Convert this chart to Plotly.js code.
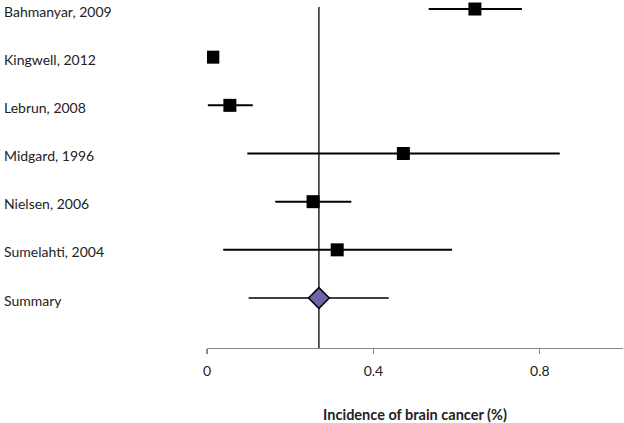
<!DOCTYPE html>
<html>
<head>
<meta charset="utf-8">
<script src="https://cdn.plot.ly/plotly-3.0.1.min.js"></script>
<style>html,body{margin:0;padding:0;background:#fff;}#chart{width:624px;height:423px;}</style>
</head>
<body>
<div id="chart"></div>
<script>
// Data
const studies = ["Bahmanyar, 2009", "Kingwell, 2012", "Lebrun, 2008", "Midgard, 1996", "Nielsen, 2006", "Sumelahti, 2004"];
const incidence = [0.644, 0.014, 0.055, 0.472, 0.255, 0.313];
const ciLow = [0.533, 0.008, 0.002, 0.097, 0.164, 0.039];
const ciHigh = [0.757, 0.020, 0.110, 0.848, 0.347, 0.589];

const summaryLabel = ["Summary"];
const summaryValue = [0.269];
const summaryLow = [0.100];
const summaryHigh = [0.437];

const xTicks = [0, 0.4, 0.8];
const xTickText = ["0", "0.4", "0.8"];

const plus = (v, h) => v.map((x, i) => h[i] - x);
const minus = (v, l) => v.map((x, i) => x - l[i]);

const traces = [
  {
    type: "scatter", mode: "markers",
    x: incidence, y: studies,
    marker: {symbol: "square", size: 13, color: "#000"},
    error_x: {type: "data", symmetric: false, array: plus(incidence, ciHigh), arrayminus: minus(incidence, ciLow), color: "#000", thickness: 2, width: 0},
    hoverinfo: "x+y", showlegend: false
  },
  {
    type: "scatter", mode: "markers",
    x: summaryValue, y: summaryLabel,
    marker: {symbol: "diamond", size: 16, color: "#6f63a8", line: {color: "#000", width: 1.5}},
    error_x: {type: "data", symmetric: false, array: plus(summaryValue, summaryHigh), arrayminus: minus(summaryValue, summaryLow), color: "#000", thickness: 1.6, width: 0},
    hoverinfo: "x+y", showlegend: false
  }
];

const allLabels = studies.concat(summaryLabel);
const annotations = allLabels.map(s => ({
  text: s, xref: "paper", yref: "y", x: -0.493, y: s,
  xanchor: "left", yanchor: "middle", showarrow: false, yshift: -2,
  font: {family: "Lato, 'Open Sans', sans-serif", size: 14, color: "#222"}
}));

const layout = {
  width: 624, height: 423,
  margin: {l: 207, r: 1, t: 0, b: 75},
  paper_bgcolor: "#fff", plot_bgcolor: "#fff",
  font: {family: "Lato, 'Open Sans', sans-serif", color: "#222"},
  xaxis: {
    range: [0, 1], tickvals: xTicks, ticktext: xTickText,
    showgrid: false, zeroline: false,
    showline: true, linecolor: "#868686", linewidth: 1.3,
    ticks: "outside", ticklen: 5, tickcolor: "#868686", tickwidth: 1.3,
    ticklabelstandoff: 5,
    tickfont: {size: 14, color: "#222"},
    title: {text: "<b>Incidence of brain cancer (%)</b>", font: {size: 14.5, color: "#222"}, standoff: 31}
  },
  yaxis: {
    type: "category", range: [7.038, -0.187],
    showticklabels: false, showgrid: false, zeroline: false, showline: false, ticks: ""
  },
  shapes: [{
    type: "line", xref: "x", yref: "paper",
    x0: summaryValue[0], x1: summaryValue[0], y0: 0, y1: 0.98,
    line: {color: "#222", width: 1.5}, layer: "below"
  }],
  annotations: annotations
};

Plotly.newPlot("chart", traces, layout, {displayModeBar: false, staticPlot: true});
</script>
</body>
</html>
